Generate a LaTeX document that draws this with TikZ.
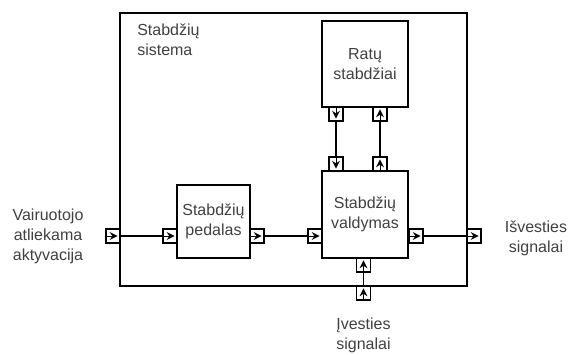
\documentclass[tikz,border=0pt]{standalone}
\usepackage{fontspec}
\setmainfont{Liberation Sans}
\usetikzlibrary{positioning,calc}
\newcommand{\blokfont}{\fontsize{12}{15}\selectfont}
\newcommand{\portrodykle}[5]{%
  \draw[black, line width=0.7pt] ($(path picture bounding box.center)+(#5)$) -- (path picture bounding box.center);
  \fill[black] ($(path picture bounding box.center)+(#1)$) -- ($(path picture bounding box.center)+(#2)$)
    -- ($(path picture bounding box.center)+(#3)$) -- ($(path picture bounding box.center)+(#4)$) -- cycle;}
\tikzset{
  blok/.style={draw, line width=0.8pt, inner sep=0pt, align=center, font=\blokfont, text=black!75},
  port/.style={draw, line width=0.8pt, fill=white, minimum size=10.5pt, inner sep=0pt},
  portR/.style={port, path picture={\portrodykle{3.5pt,0}{-2.5pt,3pt}{-0.5pt,0}{-2.5pt,-3pt}{-5.25pt,0}}},
  portU/.style={port, path picture={\portrodykle{0,3.5pt}{-3pt,-2.5pt}{0,-0.5pt}{3pt,-2.5pt}{0,-5.25pt}}},
  portD/.style={port, path picture={\portrodykle{0,-3.5pt}{3pt,2.5pt}{0,0.5pt}{-3pt,2.5pt}{0,5.25pt}}},
  lbl/.style={align=center, font=\blokfont, text=black!75, inner sep=0pt},
  jungtis/.style={line width=0.8pt}
}
\begin{document}
\begin{tikzpicture}[x=0.75pt, y=-0.75pt]
\useasboundingbox (0,0) rectangle (573,354);
\node[blok, minimum width=260.25pt, minimum height=204.75pt] (sistema) at (293.5,149.5) {};
\node[lbl, align=left, anchor=north west] (sistemalbl) at (137,24) {Stabdžių\\sistema};
\node[blok, minimum width=64.5pt, minimum height=64.5pt] (ratai) at (365,64) {Ratų\\stabdžiai};
\node[blok, minimum width=64.5pt, minimum height=65.25pt] (valdymas) at (365,214.5) {Stabdžių\\valdymas};
\node[blok, minimum width=54.75pt, minimum height=54.75pt] (pedalas) at (213.5,221.5) {Stabdžių\\pedalas};
\node[portR] (sis_in) at (113,236) {};
\node[portR] (ped_in) at (170,236) {};
\node[portR] (ped_out) at (257,236) {};
\node[portR] (vald_in) at (315,236) {};
\node[portR] (vald_out) at (416,236) {};
\node[portR] (sis_out) at (474,236) {};
\node[portD] (rat_out) at (336,114) {};
\node[portD] (vald_rin) at (336,164) {};
\node[portU] (vald_rout) at (380,164) {};
\node[portU] (rat_in) at (380,114) {};
\node[portU] (vald_sin) at (363.5,265) {};
\node[portU] (sis_sin) at (363.5,293) {};
\node[lbl] (aktyvacija) at (48,236) {Vairuotojo\\atliekama\\aktyvacija};
\node[lbl] (isvestis) at (536,238) {Išvesties\\signalai};
\node[lbl] (ivestis) at (363.5,335) {Įvesties\\signalai};
\draw[jungtis] (sis_in) -- (ped_in);
\draw[jungtis] (ped_out) -- (vald_in);
\draw[jungtis] (vald_out) -- (sis_out);
\draw[jungtis] (rat_out) -- (vald_rin);
\draw[jungtis] (vald_rout) -- (rat_in);
\draw[jungtis] (sis_sin) -- (vald_sin);
\end{tikzpicture}
\end{document}
